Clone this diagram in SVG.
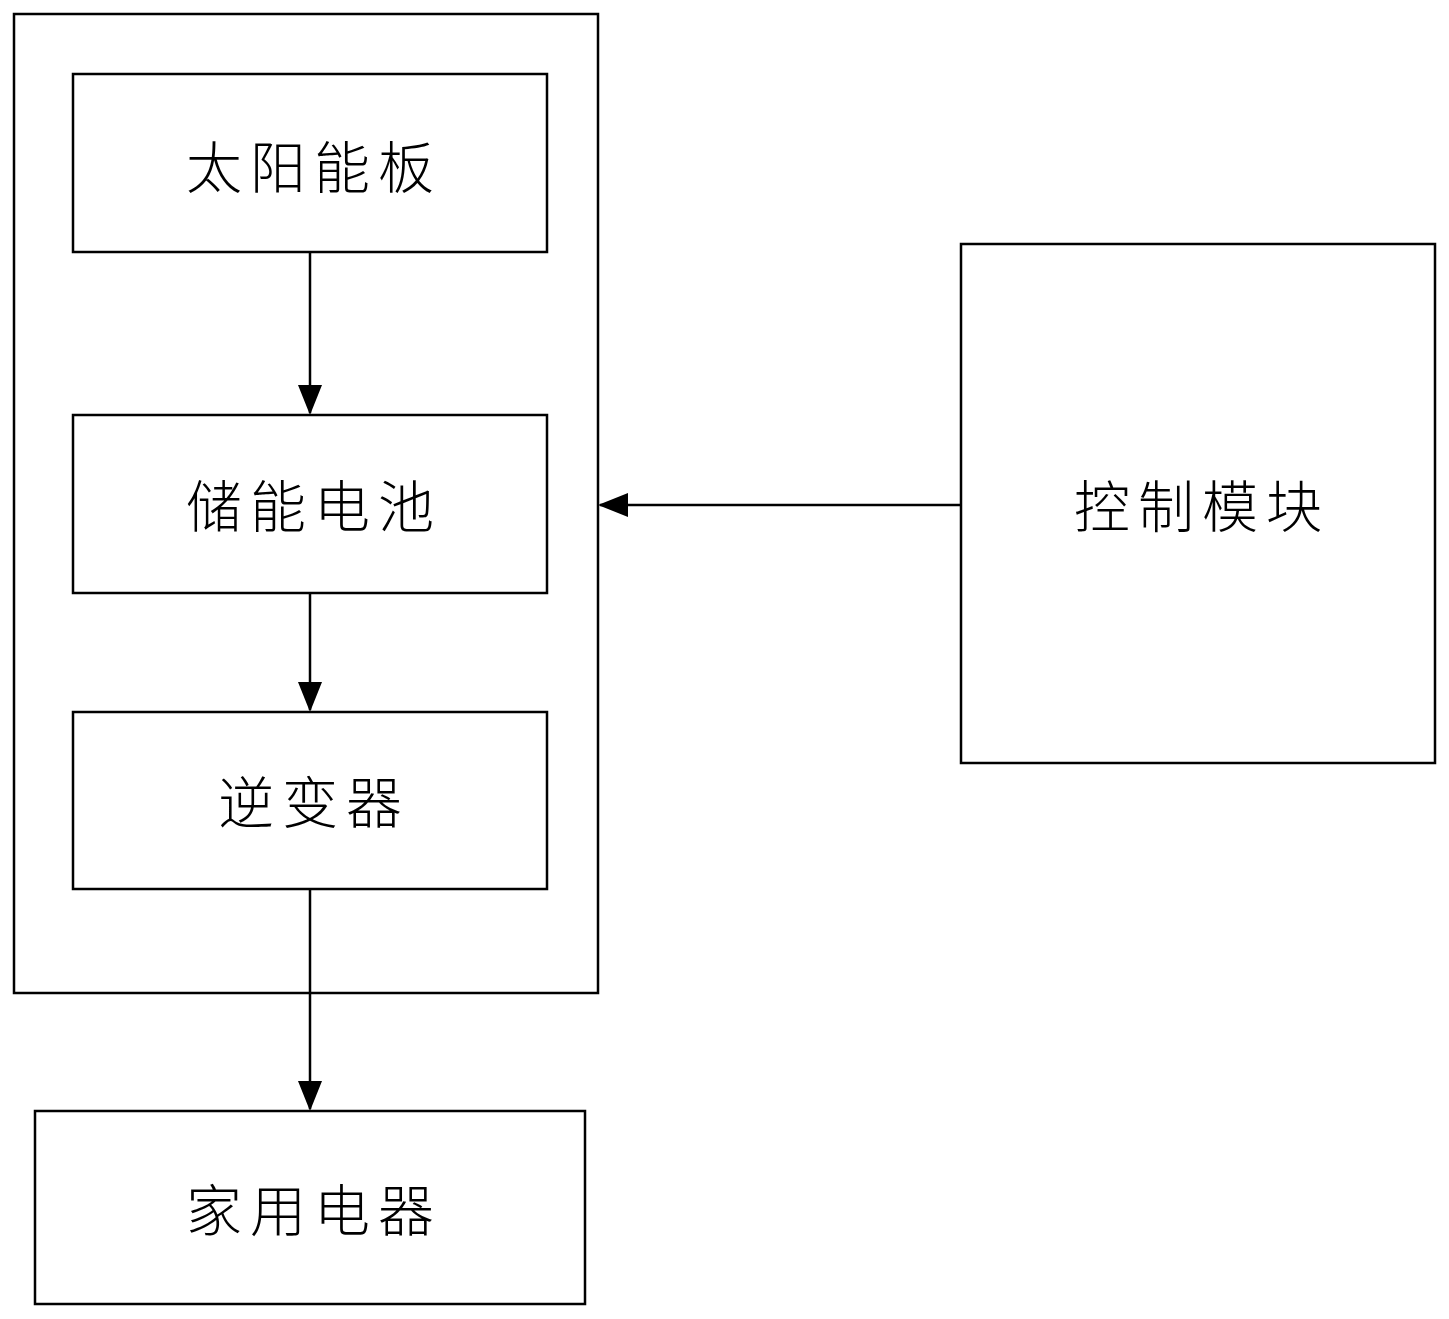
<svg xmlns="http://www.w3.org/2000/svg" width="1449" height="1319" viewBox="0 0 1449 1319">
<style>
rect{fill:none;stroke:#000;stroke-width:2.5}
text{font-family:"Noto Sans CJK SC",sans-serif;font-size:56px;font-weight:300;text-anchor:middle;dominant-baseline:central;letter-spacing:8px}
line{stroke:#000;stroke-width:2.5}
</style>
<defs><marker id="a" markerWidth="30" markerHeight="24" refX="28" refY="12" orient="auto" markerUnits="userSpaceOnUse"><path d="M0,0L30,12L0,24z" fill="#000"/></marker></defs>
<rect fill="#fff" width="1449" height="1319" style="fill:#fff;stroke:none"/>
<g id="outer"><rect x="14" y="14" width="584" height="979"/></g>
<g id="solar"><rect x="73" y="74" width="474" height="178"/><text x="314" y="163">太阳能板</text></g>
<g id="battery"><rect x="73" y="415" width="474" height="178"/><text x="314" y="502">储能电池</text></g>
<g id="inverter"><rect x="73" y="712" width="474" height="177"/><text x="314" y="798">逆变器</text></g>
<g id="appliance"><rect x="35" y="1111" width="550" height="193"/><text x="314" y="1206">家用电器</text></g>
<g id="control"><rect x="961" y="244" width="474" height="519"/><text x="1202" y="502">控制模块</text></g>
<g id="connectors">
<line x1="310" y1="252" x2="310" y2="413" marker-end="url(#a)"/>
<line x1="310" y1="593" x2="310" y2="710" marker-end="url(#a)"/>
<line x1="310" y1="889" x2="310" y2="1109" marker-end="url(#a)"/>
<line x1="961" y1="505" x2="600" y2="505" marker-end="url(#a)"/>
</g>
</svg>
